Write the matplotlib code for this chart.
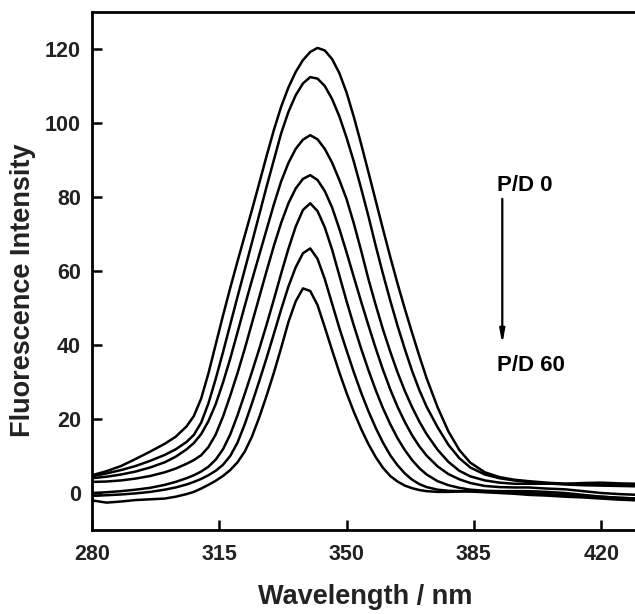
import matplotlib
matplotlib.use("Agg")
import matplotlib.pyplot as plt

# wavelength grid (nm) shared by all spectra
wavelength = [280, 284, 288, 292, 296, 300, 303, 306, 308, 310, 312, 314, 316, 318,
              320, 322, 324, 326, 328, 330, 332, 334, 336, 338, 340, 342, 344, 346,
              348, 350, 352, 354, 356, 358, 360, 362, 364, 366, 368, 370, 372, 375,
              378, 381, 384, 388, 392, 396, 400, 405, 410, 415, 420, 425, 430]

# fluorescence intensity, P/D 0 (top) down to P/D 60 (bottom)
pd_0 = [4.8, 5.9, 7.3, 9.2, 11.2, 13.3, 15.2, 18.0, 20.8,
        25.5, 32.3, 40.1, 47.9, 55.4, 62.6, 69.6, 76.6, 83.8, 91.1, 98.1, 104.4, 109.6, 113.8, 117.0, 119.2,
        120.3, 119.6, 117.3, 113.5, 108.2, 101.6, 94.3, 86.7, 79.0, 71.3, 63.8, 56.6, 49.8, 43.3, 37.0, 31.0,
        23.2, 16.6, 11.6, 8.2, 5.6, 4.3, 3.6, 3.2, 2.8, 2.5, 2.3, 2.2, 2.1, 2.0]
pd_1 = [4.5, 5.3, 6.2, 7.3, 8.7, 10.3, 11.8, 13.8, 15.7,
        19.0, 24.2, 30.8, 38.0, 45.5, 53.0, 60.4, 67.8, 75.3, 82.8, 90.0, 97.2, 103.0, 107.5, 110.7, 112.4,
        112.0, 110.0, 106.5, 101.8, 96.0, 89.5, 82.3, 74.8, 66.8, 59.2, 52.0, 45.2, 38.9, 33.0, 27.8, 23.3,
        17.8, 13.0, 9.4, 6.9, 5.0, 4.0, 3.4, 3.0, 2.6, 2.3, 2.1, 2.0, 1.9, 1.8]
pd_2 = [4.0, 4.4, 5.0, 5.8, 6.9, 8.3, 9.8, 11.8, 13.5,
        15.9, 19.4, 24.0, 29.8, 36.3, 43.4, 50.6, 57.6, 64.4, 71.2, 78.0, 84.2, 89.2, 93.0, 95.5, 96.7,
        95.6, 93.0, 89.3, 84.6, 79.4, 72.8, 65.5, 57.8, 50.8, 44.2, 38.2, 32.6, 27.6, 23.2, 19.3, 15.9,
        11.7, 8.4, 6.0, 4.5, 3.4, 2.8, 2.5, 2.5, 2.5, 2.5, 2.7, 2.8, 2.6, 2.5]
pd_3 = [3.0, 3.1, 3.4, 3.9, 4.6, 5.6, 6.6, 7.9, 8.9,
        10.2, 12.4, 15.8, 20.6, 26.3, 32.4, 39.0, 46.0, 53.0, 60.0, 66.8, 73.0, 78.3, 82.3, 84.9, 85.9,
        84.6, 81.6, 77.2, 71.4, 65.0, 58.3, 51.7, 45.3, 39.1, 33.3, 28.0, 23.3, 19.2, 15.6, 12.6, 10.1,
        7.2, 5.1, 3.7, 2.7, 1.9, 1.6, 1.5, 1.5, 1.2, 1.0, 0.5, 0.0, -0.3, -0.5]
pd_4 = [0.0, 0.2, 0.5, 0.9, 1.4, 2.2, 3.0, 4.0, 4.8,
        5.8, 7.1, 9.0, 11.8, 15.8, 21.0, 26.8, 32.8, 39.0, 45.5, 52.3, 59.3, 66.0, 72.0, 76.5, 78.3,
        76.2, 71.8, 65.8, 58.8, 51.8, 45.2, 39.0, 33.2, 27.8, 22.9, 18.6, 14.8, 11.6, 8.9, 6.7, 5.0,
        3.2, 2.1, 1.4, 0.9, 0.6, 0.5, 0.5, 0.5, 0.3, 0.0, -0.5, -1.0, -1.3, -1.5]
pd_5 = [-0.8, -0.6, -0.4, -0.1, 0.3, 0.9, 1.5, 2.3, 3.0,
        3.8, 4.8, 6.0, 7.6, 10.0, 13.6, 18.6, 24.3, 30.3, 36.5, 43.0, 49.6, 55.8, 61.0, 64.8, 66.1,
        63.3, 57.8, 51.2, 44.6, 38.5, 32.6, 27.1, 22.1, 17.6, 13.6, 10.2, 7.5, 5.3, 3.6, 2.4, 1.6,
        0.9, 0.6, 0.5, 0.4, 0.2, 0.0, -0.2, -0.5, -0.7, -1.0, -1.2, -1.5, -1.8, -2.0]
pd_60 = [-2.0, -2.6, -2.3, -1.9, -1.7, -1.5, -1.0, -0.3, 0.3,
         1.2, 2.2, 3.3, 4.6, 6.2, 8.3, 11.2, 15.3, 20.5, 26.3, 32.5, 39.2, 46.2, 51.8, 55.3, 54.6,
         50.8, 44.8, 38.6, 32.6, 27.0, 21.9, 17.3, 13.2, 9.7, 6.8, 4.6, 3.1, 2.0, 1.3, 0.8, 0.5,
         0.3, 0.3, 0.4, 0.5, 0.5, 0.4, 0.2, 0.0, -0.3, -0.5, -0.8, -1.0, -1.3, -1.5]

spectra = [pd_0, pd_1, pd_2, pd_3, pd_4, pd_5, pd_60]

x_ticks = [280, 315, 350, 385, 420]
y_ticks = [0, 20, 40, 60, 80, 100, 120]

plt.rcParams['font.family'] = ['Liberation Sans', 'DejaVu Sans']
plt.rcParams['font.weight'] = 'bold'

fig = plt.figure(figsize=(6.35, 6.14), dpi=100)
ax = fig.add_axes([92 / 635, 84 / 614, 545.6 / 635, 518 / 614])

for s in spectra:
    ax.plot(wavelength, s, color='black', lw=1.8, solid_joinstyle='round')

ax.set_xlim(280, 430)
ax.set_ylim(-10, 130)
ax.set_xticks(x_ticks)
ax.set_yticks(y_ticks)

for side in ['left', 'bottom', 'top']:
    ax.spines[side].set_linewidth(2.0)
ax.spines['right'].set_visible(False)

ax.tick_params(direction='in', length=7, width=1.8, labelsize=15.5,
               labelcolor='#222222', top=False, right=False)
ax.tick_params(axis='x', pad=10)
ax.tick_params(axis='y', pad=8)

ax.set_xlabel('Wavelength / nm', fontsize=19.5, fontweight='bold', color='#222222')
ax.set_ylabel('Fluorescence Intensity', fontsize=19.5, fontweight='bold', color='#222222')
ax.xaxis.set_label_coords(0.5, -0.104)
ax.yaxis.set_label_coords(-0.1026, 0.463)

# direction of increasing P/D ratio
ax.text(391.4, 83, 'P/D 0', fontsize=16, fontweight='bold', va='center', ha='left')
ax.text(391.4, 34.5, 'P/D 60', fontsize=16, fontweight='bold', va='center', ha='left')
ax.annotate('', xy=(392.8, 40.3), xytext=(392.8, 79.5),
            arrowprops=dict(arrowstyle='-|>,head_length=0.8,head_width=0.15',
                            color='black', lw=1.6, shrinkA=0, shrinkB=0))

fig.savefig('out.png', dpi=100)
